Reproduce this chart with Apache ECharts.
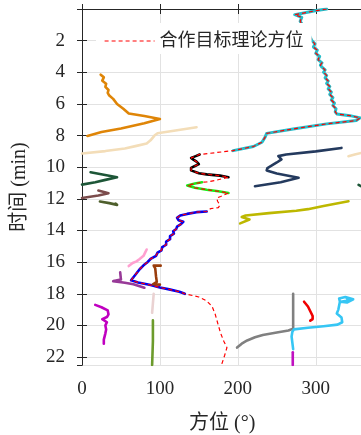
<!DOCTYPE html>
<html>
<head>
<meta charset="utf-8">
<script src="https://cdn.jsdelivr.net/npm/echarts@6/dist/echarts.min.js"></script>
<style>
  html, body { margin: 0; padding: 0; background: #fff; }
  #chart { width: 361px; height: 435px; }
</style>
</head>
<body>
<div id="chart"></div>
<script>
// 方位–时间 历程图：各跟踪航迹 + 合作目标理论方位（红虚线）
// every point is [方位 deg, 时间 min]

const cyanTrack = [[314,0.0],[301,0.1],[273,0.36],[282,0.53],[280,0.78],[284,1.05],[291,1.26],[291,1.58],
  [295,2.0],[299,2.2],[297,2.4],[302,2.6],[300,2.8],[305,3.0],[303,3.2],[308,3.4],[306,3.55],[308,3.68],
  [312,3.85],[310,4.0],[314,4.2],[312,4.35],[316,4.55],[314,4.7],[318,4.9],[316,5.05],[320,5.25],[318,5.4],
  [322,5.6],[320,5.75],[324,5.95],[322,6.1],[326,6.3],[325,6.5],[327,6.63],[344,6.74],[357,6.88],[352,7.05],
  [314,7.26],[271,7.58],[237,7.86],[235,8.1],[231,8.42],[229,8.53],[220,8.69],[194,8.95]];
const blackTrack = [[151,9.2],[146,9.3],[140,9.41],[143,9.52],[147,9.65],[150,9.8],[145,9.92],[140,10.04],
  [140,10.2],[141,10.32],[150,10.38],[160,10.45],[177,10.53],[188,10.63]];
const greenTrack = [[154,10.95],[145,11.03],[135,11.15],[145,11.3],[160,11.42],[175,11.52],[188,11.63]];
const blueTrack = [[160,12.8],[147,12.84],[135,12.95],[126,13.05],[122,13.2],[124,13.35],[130,13.45],[127,13.6],
  [122,13.75],[121,13.9],[117,14.05],[118,14.2],[113,14.35],[113,14.55],[108,14.7],[108,14.9],[103,15.05],
  [102,15.25],[97,15.4],[95,15.6],[88,15.8],[84,16.0],[79,16.2],[74,16.45],[70,16.7],[66,16.95],[63,17.15],
  [72,17.28],[88,17.45],[100,17.6],[112,17.72],[125,17.87],[132,18.0]];

// 理论方位 between the tracks it follows
const theoryGapA = [[150,9.2]];
const theoryGapB = [[170,10.85],[160,10.93]];
const theoryLoop = [[186,11.7],[178,11.85],[173,11.95],[174,12.15],[177,12.4],[175,12.55],[165,12.62]];
const theoryTail = [[150,18.2],[160,18.45],[167,18.8],[171,19.3],[175,20.0],[178,20.5],[182,21.0],[186,21.4],
  [183,21.9],[179,22.5]];

const orangeTrack = [[24,4.15],[28,4.32],[26,4.53],[31,4.72],[30,4.92],[34,5.12],[33,5.3],[35,5.47],[40,5.68],
  [45,6.0],[53,6.3],[60,6.6],[80,6.76],[100,6.95],[80,7.22],[50,7.55],[25,7.78],[7,8.02]];
const wheatTrack = [[147,7.47],[120,7.68],[97,7.85],[93,8.0],[94,8.12],[88,8.3],[83,8.5],[70,8.65],[55,8.82],
  [30,8.98],[0,9.13]];
const wheatEdge = [[342,9.3],[350,9.2],[362,9.05]];
const navyTrack = [[333,8.78],[300,9.0],[262,9.2],[252,9.3],[256,9.5],[250,9.7],[238,10.05],[237,10.2],
  [250,10.4],[278,10.67],[255,10.95],[222,11.2]];
const forestTrack = [[11,10.32],[28,10.48],[45,10.63],[30,10.8],[17,10.95],[0,11.1]];
const forestEdge = [[355,11.12],[358,11.2]];
const mauveTrack = [[21,11.47],[34,11.64],[21,11.79],[0,11.94]];
const oliveTrack = [[23,12.17],[35,12.27],[45,12.38],[43,12.3]];
const yellowTrack = [[342,12.15],[310,12.45],[290,12.65],[275,12.75],[240,12.9],[210,13.05],[205,13.15],
  [215,13.3],[203,13.55]];
const pinkTrack = [[60,16.25],[65,16.05],[70,15.95],[74,15.8],[79,15.6],[81,15.4],[83,15.2]];
const siennaTrack = [[101,16.22],[92,16.22],[94,16.4],[95,16.9],[96,17.25],[91,17.4],[100,17.42]];
const purpleTrack = [[49,16.64],[50,17.1],[45,17.14],[40,17.2],[55,17.3],[66,17.4],[80,17.62]];
const rosyTrack = [[92,18.0],[91,18.6],[90,19.2]];
const magentaTrack = [[17,18.7],[25,18.85],[33,19.05],[34,19.3],[32,19.47],[26,19.6],[32,19.8],[30,20.0],
  [31,20.25],[30,20.5],[28,20.9],[28,21.15]];
const grassTrack = [[91,19.68],[91,21.0],[90,22.5]];
const grayTrack = [[199,21.4],[205,21.15],[212,20.95],[222,20.75],[232,20.6],[250,20.45],[265,20.32],
  [271,20.2],[271,19.5],[271,18.6],[271,18.0]];
const skyTrack = [[271,21.5],[270,21.1],[269,20.7],[270,20.4],[272,20.25],[290,20.15],[310,20.05],[328,19.95],
  [334,19.8],[333,19.5],[327,19.25],[329,19.0],[331,18.5],[330,18.3],[338,18.2],[348,18.35],[340,18.55],
  [332,18.5],[345,18.4],[340,18.3]];
const redTrack = [[285,18.5],[290,18.8],[293,19.1],[296,19.4],[296,19.6],[293,19.7]];
const magentaTail = [[270.5,21.7],[270.5,22.5]];

const theoryLine = [...cyanTrack, ...theoryGapA, ...blackTrack, ...theoryGapB, ...greenTrack,
  ...theoryLoop, ...blueTrack, ...theoryTail];

const xTicks = { min: 0, max: 360, step: 100 };
const yTicks = { min: 0, max: 22.5, step: 2 };

const THEORY = '合作目标理论方位';
const numFont = '"Liberation Serif", "DejaVu Serif", serif';
const cjkFont = '"Liberation Serif", "Noto Sans CJK SC", serif';
const axisClr = '#262626';
const gridClr = '#e2e2e2';

function track(data, color, width) {
  return {
    type: 'line', data, symbol: 'none', silent: true, z: 3,
    lineStyle: { color, width: width || 2.6, cap: 'round', join: 'round' },
  };
}

const series = [
  track(cyanTrack, '#26bdc9', 3),
  track(orangeTrack, '#df8507'),
  track(wheatTrack, '#f3ddb8'),
  track(wheatEdge, '#f3ddb8'),
  track(navyTrack, '#243a5e'),
  track(blackTrack, '#000000'),
  track(greenTrack, '#18ee18'),
  track(forestTrack, '#1d5637'),
  track(forestEdge, '#1d5637'),
  track(mauveTrack, '#7b4c4c'),
  track(oliveTrack, '#4e5f2c'),
  track(yellowTrack, '#bdb800'),
  track(blueTrack, '#0000f0'),
  track(pinkTrack, '#ffa0d0'),
  track(siennaTrack, '#9a3d0c'),
  track(purpleTrack, '#983a98'),
  track(rosyTrack, '#ead2d2'),
  track(magentaTrack, '#c000c0'),
  track(grassTrack, '#6c9b2c'),
  track(grayTrack, '#808080'),
  track(skyTrack, '#36c6f4'),
  track(redTrack, '#f00000'),
  track(magentaTail, '#c010c0'),
  {
    name: THEORY, type: 'line', data: theoryLine, symbol: 'none', silent: true, z: 5,
    lineStyle: { color: '#ff0000', width: 1.2, type: [4, 3] },
    itemStyle: { color: '#ff0000' },
  },
];

const baseX = {
  type: 'value', min: xTicks.min, max: xTicks.max, interval: xTicks.step,
  axisLine: { show: true, lineStyle: { color: axisClr, width: 1 } },
  axisTick: { show: true, inside: true, length: 5, lineStyle: { color: axisClr } },
};
const baseY = {
  type: 'value', inverse: true, min: yTicks.min, max: yTicks.max, interval: yTicks.step,
  axisLine: { show: true, lineStyle: { color: axisClr, width: 1 } },
  axisTick: { show: true, inside: true, length: 5, lineStyle: { color: axisClr } },
};

const chart = echarts.init(document.getElementById('chart'), null, { renderer: 'canvas' });
chart.setOption({
  backgroundColor: '#ffffff', animation: false,
  grid: { left: 82, top: 9, width: 280.5, height: 356, show: false, outerBoundsMode: 'none' },
  legend: {
    show: true, data: [THEORY], left: 96, top: 23, padding: [9, 8, 4, 8],
    backgroundColor: '#ffffff', borderWidth: 0, z: 10,
    itemWidth: 50, itemHeight: 14,
    itemStyle: { color: 'rgba(0,0,0,0)', borderColor: 'rgba(0,0,0,0)', borderWidth: 0, opacity: 0 },
    lineStyle: { color: '#ff0000', width: 1.2, type: [4, 3], opacity: 1 },
    textStyle: { fontFamily: cjkFont, fontSize: 18, color: axisClr },
  },
  xAxis: [
    {
      ...baseX, position: 'bottom',
      name: '方位 (°)', nameLocation: 'middle', nameGap: 49,
      nameTextStyle: { fontFamily: cjkFont, fontSize: 20, color: axisClr },
      axisLabel: { fontFamily: numFont, fontSize: 19, color: axisClr, margin: 15, showMaxLabel: false },
      splitLine: { show: true, lineStyle: { color: gridClr, width: 1 } },
    },
    { ...baseX, position: 'top', axisLabel: { show: false }, splitLine: { show: false } },
  ],
  yAxis: [
    {
      ...baseY, position: 'left',
      name: '时间 (min)', nameLocation: 'middle', nameGap: 52,
      nameTextStyle: { fontFamily: cjkFont, fontSize: 20, color: axisClr },
      axisLabel: { fontFamily: numFont, fontSize: 19, color: axisClr, margin: 17,
        showMinLabel: false, showMaxLabel: false },
      splitLine: { show: true, lineStyle: { color: gridClr, width: 1 } },
    },
    { ...baseY, position: 'right', axisLabel: { show: false }, splitLine: { show: false } },
  ],
  series,
});
</script>
</body>
</html>
